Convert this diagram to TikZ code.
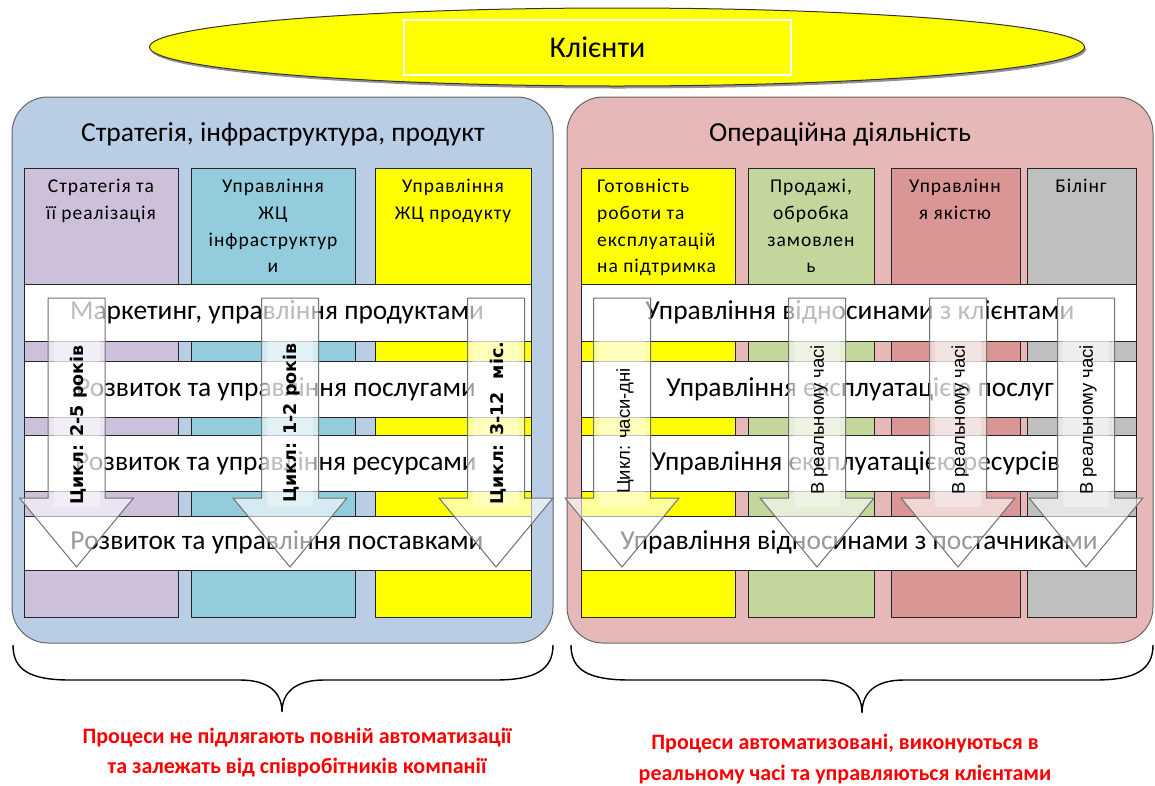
\documentclass[tikz,border=0pt]{standalone}
\usepackage{fontspec}
\setmainfont{Carlito}
\newfontfamily\colfont[LetterSpace=5]{Carlito}
\newfontfamily\cycfont{DejaVu Sans}
\newfontfamily\arialfont{Liberation Sans}
\usetikzlibrary{shapes.geometric,shadows}
\definecolor{panelL}{HTML}{B9CDE5}
\definecolor{panelR}{HTML}{E6B9B8}
\definecolor{cPurple}{HTML}{CCC0DA}
\definecolor{cTeal}{HTML}{93CDDD}
\definecolor{cYellow}{HTML}{FFFF00}
\definecolor{cGreen}{HTML}{C3D69B}
\definecolor{cRed}{HTML}{D99694}
\definecolor{cGray}{HTML}{BFBFBF}
\definecolor{edgecol}{HTML}{404040}
\definecolor{arrowedge}{HTML}{707070}
\definecolor{notered}{HTML}{FF0000}
\begin{document}
\begin{tikzpicture}[x=1pt,y=-1pt,
  panelbox/.style={draw=edgecol!80, line width=1pt, rounded corners=36pt, inner sep=0pt},
  colbox/.style={draw=black!85, line width=0.8pt},
  bandbox/.style={draw=black!85, line width=0.8pt, fill=white},
  bandtext/.style={font=\fontsize{27.4}{32}\selectfont, inner sep=0pt},
  headtext/.style={font=\fontsize{27.5}{32}\selectfont, inner sep=0pt},
  coltext/.style={font=\colfont\fontsize{19.5}{26.7}\selectfont, align=center, anchor=north, inner sep=0pt},
  blockarrow/.style={draw=arrowedge, line width=1pt, fill=white, fill opacity=0.6},
  cycletext/.style={font=\cycfont\bfseries\fontsize{17.5}{21}\selectfont, rotate=90, inner sep=0pt},
  rtimetext/.style={font=\arialfont\fontsize{18.5}{22}\selectfont, rotate=90, inner sep=0pt},
  notetext/.style={font=\bfseries\fontsize{22}{26}\selectfont, text=notered, inner sep=0pt},
  bracepath/.style={draw=black, line width=1.4pt}
]
\useasboundingbox (0,0) rectangle (1155,785);
\fill[white] (0,0) rectangle (1155,785);

% clients ellipse
\node[ellipse, draw=black!80, line width=1pt, fill=cYellow, minimum width=935pt, minimum height=78pt, inner sep=0pt,
  drop shadow={shadow xshift=1.5pt, shadow yshift=-2.5pt, fill=black!70, opacity=0.6}] (clients) at (617,47) {};
\node[draw=white, line width=1.2pt, minimum width=387pt, minimum height=55pt, font=\fontsize{30}{34}\selectfont] (clientslabel) at (597.5,47.5) {Клієнти};

% panels
\node[panelbox, fill=panelL, minimum width=541pt, minimum height=546pt] (leftpanel) at (282.5,370) {};
\node[panelbox, fill=panelR, minimum width=586pt, minimum height=546pt] (rightpanel) at (860,370) {};
\node[headtext] (lefthead) at (283,134) {Стратегія, інфраструктура, продукт};
\node[headtext] (righthead) at (840,134) {Операційна діяльність};

% columns
\foreach \xa/\xb/\cl in {24/178/cPurple, 191/355/cTeal, 375/531/cYellow, 581/735/cYellow, 748/874/cGreen, 891/1020/cRed, 1027/1136/cGray}
  \path[colbox, fill=\cl] (\xa,168) rectangle (\xb,617);

% column texts
\node[coltext] (colA) at (101,179) {Стратегія та\\її реалізація};
\node[coltext] (colB) at (273,179) {Управління\\ЖЦ\\інфраструктур\\и};
\node[coltext] (colC) at (453,179) {Управління\\ЖЦ продукту};
\node[coltext, align=left, anchor=north west] (colD) at (597,179) {Готовність\\роботи та\\експлуатацій\\на підтримка};
\node[coltext] (colE) at (811,179) {Продажі,\\обробка\\замовлен\\ь};
\node[coltext] (colF) at (955,179) {Управлінн\\я якістю};
\node[coltext] (colG) at (1081,179) {Білінг};

% bands
\foreach \ya/\yb in {284/341, 361/417, 435/491, 516/570}{
  \path[bandbox] (24,\ya) rectangle (531,\yb);
  \path[bandbox] (581,\ya) rectangle (1136,\yb);
}
\node[bandtext] (bandL1) at (277,312) {Маркетинг, управління продуктами};
\node[bandtext] (bandL2) at (276,389) {Розвиток та управління послугами};
\node[bandtext] (bandL3) at (276,463) {Розвиток та управління ресурсами};
\node[bandtext] (bandL4) at (277,542) {Розвиток та управління поставками};
\node[bandtext] (bandR1) at (860,312) {Управління відносинами з клієнтами};
\node[bandtext] (bandR2) at (860,389) {Управління експлуатацією послуг};
\node[bandtext] (bandR3) at (856,463) {Управління експлуатацією ресурсів};
\node[bandtext] (bandR4) at (859,542) {Управління відносинами з постачниками};

% block arrows
\foreach \c in {76.5, 290, 496, 622, 817, 958, 1086}{
  \path[blockarrow] ({\c-28.5},298) -- ({\c+28.5},298) -- ({\c+28.5},498) -- ({\c+57},498) -- (\c,567)
     -- ({\c-57},498) -- ({\c-28.5},498) -- cycle;
  \path[fill=white, fill opacity=0.35] ({\c-23},301) rectangle ({\c+23},507);
}
\node[cycletext] (cyc1) at (79,425) {Цикл: 2-5 років};
\node[cycletext] (cyc2) at (292,423) {Цикл: 1-2 років};
\node[cycletext] (cyc3) at (498,423) {Цикл: 3-12\hspace{0.4em} міс.};
\node[rtimetext] (cyc4) at (625,431) {Цикл: часи-дні};
\node[rtimetext] (rt1) at (819,420) {В реальному часі};
\node[rtimetext] (rt2) at (960,420) {В реальному часі};
\node[rtimetext] (rt3) at (1088,420) {В реальному часі};

% braces
\path[bracepath] (13,645) .. controls (13,670) and (30,680) .. (70,680) -- (240,680)
   .. controls (268,680) and (282,692) .. (282,712)
   .. controls (282,692) and (296,680) .. (324,680) -- (495,680)
   .. controls (535,680) and (553,670) .. (553,645);
\path[bracepath] (571,645) .. controls (571,670) and (588,680) .. (630,680) -- (820,680)
   .. controls (848,680) and (862,692) .. (862,713)
   .. controls (862,692) and (876,680) .. (904,680) -- (1095,680)
   .. controls (1135,680) and (1153,670) .. (1153,645);

% notes
\node[notetext] (noteL1) at (297,738) {Процеси не підлягають повній автоматизації};
\node[notetext] (noteL2) at (297,768) {та залежать від співробітників компанії};
\node[notetext] (noteR1) at (845,744) {Процеси автоматизовані, виконуються в};
\node[notetext] (noteR2) at (845,774) {реальному часі та управляються клієнтами};
\end{tikzpicture}
\end{document}
